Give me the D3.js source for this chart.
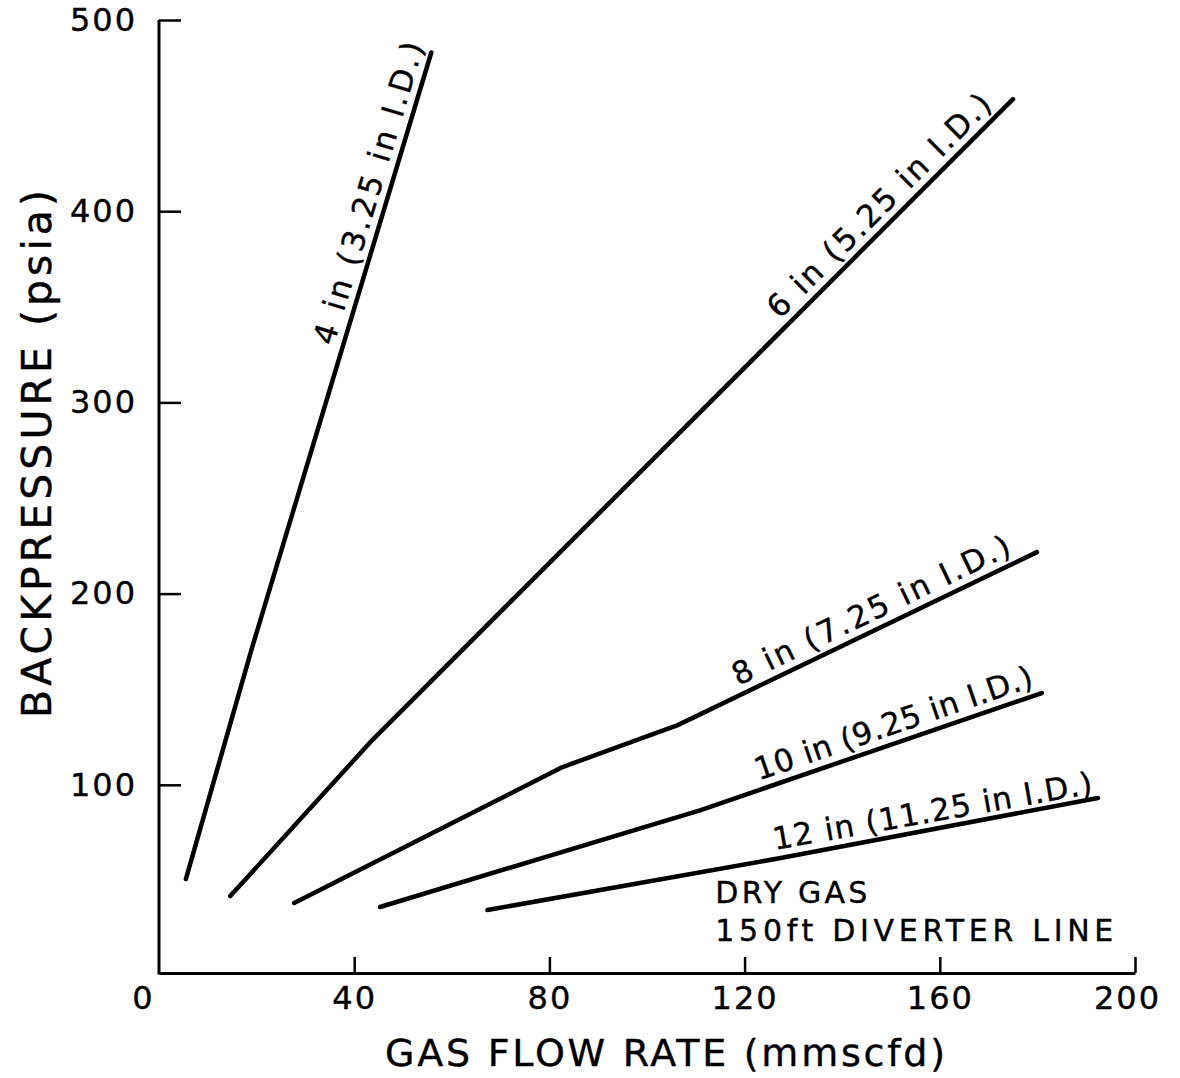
<!DOCTYPE html>
<html>
<head>
<meta charset="utf-8">
<script src="https://cdn.jsdelivr.net/npm/d3@7"></script>
<style>
  body { margin: 0; background: #fff; }
  text { font-family: "DejaVu Sans", sans-serif; fill: #000; stroke: #000; stroke-width: 0.4px; }
</style>
</head>
<body>
<div id="chart"></div>
<script>
// data: [gas flow rate (mmscfd), backpressure (psia)]
var line4in  = [[5.5, 50.7], [19.1, 172], [55.8, 483]];
var line6in  = [[14.6, 41.8], [43.7, 123.4], [175, 458.6]];
var line8in  = [[27.7, 38.2], [82.7, 109.3], [106.3, 131.2], [179.9, 221.7]];
var line10in = [[45.3, 36.1], [111, 86.8], [180.9, 148]];
var line12in = [[67.3, 34.5], [127.4, 61.7], [192.4, 93.1]];

var seriesNames = ["4 in (3.25 in I.D.)", "6 in (5.25 in I.D.)", "8 in (7.25 in I.D.)",
                   "10 in (9.25 in I.D.)", "12 in (11.25 in I.D.)"];
var labelStart = [37.5, 128.5, 119.5, 123.5, 126.5];
var labelLength = [314, 302, 305, 292, 324];

var xTicks = [0, 40, 80, 120, 160, 200];
var yTicks = [100, 200, 300, 400, 500];

var width = 1180, height = 1078;
var margin = {top: 20, left: 159, right: 45, bottom: 102};

var svg = d3.select("#chart")
  .append("svg")
  .attr("width", width)
  .attr("height", height);

var x = d3.scaleLinear().domain([0, 200]).range([margin.left, width - margin.right]);
var y = d3.scaleLinear().domain([0, 500]).range([height - margin.bottom, margin.top]);

var axisY = height - margin.bottom - 3;

// X axis (ticks point up into the plot)
var gx = svg.append("g")
  .attr("transform", "translate(0," + axisY + ")")
  .call(d3.axisBottom(x)
    .tickValues(xTicks)
    .tickSizeInner(-16)
    .tickSizeOuter(0)
    .tickPadding(13));
gx.select(".domain").attr("stroke-width", 3);
gx.selectAll(".tick line").attr("stroke-width", 2.5)
  .attr("y2", d => d === 0 ? 0 : -16);
gx.selectAll(".tick text")
  .style("font-size", "32px")
  .attr("letter-spacing", "2px")
  .attr("dx", d => d === 0 ? -16 : (d === 200 ? -8 : 0));

// Y axis (ticks point right into the plot)
var gy = svg.append("g")
  .attr("transform", "translate(" + x(0) + ",0)")
  .call(d3.axisLeft(y)
    .tickValues(yTicks)
    .tickSizeInner(-22)
    .tickSizeOuter(0)
    .tickPadding(22));
gy.select(".domain").attr("stroke-width", 3)
  .attr("d", "M0," + y(500) + "V" + (axisY + 1.5));
gy.selectAll(".tick line").attr("stroke-width", 2.5);
gy.selectAll(".tick text")
  .style("font-size", "32px")
  .attr("letter-spacing", "2px");

// axis titles
svg.append("text")
  .attr("x", 385)
  .attr("y", 1066)
  .attr("textLength", 560)
  .attr("lengthAdjust", "spacing")
  .style("font-size", "38px")
  .text("GAS FLOW RATE (mmscfd)");

svg.append("text")
  .attr("transform", "translate(51,718) rotate(-90)")
  .attr("textLength", 528)
  .attr("lengthAdjust", "spacing")
  .style("font-size", "41px")
  .text("BACKPRESSURE (psia)");

// curves
var allSeries = [line4in, line6in, line8in, line10in, line12in];
var line = d3.line().x(d => x(d[0])).y(d => y(d[1]));

svg.selectAll(".curve")
  .data(allSeries)
  .enter().append("path")
  .attr("class", "curve")
  .attr("d", line)
  .attr("fill", "none")
  .attr("stroke", "#000")
  .attr("stroke-width", 4.5)
  .attr("stroke-linecap", "round")
  .attr("stroke-linejoin", "round");

// labels sitting on the lines
allSeries.forEach(function(s, i) {
  var sx = labelStart[i];
  var j = 0;
  while (j < s.length - 2 && s[j + 1][0] < sx) j++;
  var p0 = s[j], p1 = s[j + 1];
  var t = (sx - p0[0]) / (p1[0] - p0[0]);
  var sy = p0[1] + t * (p1[1] - p0[1]);
  var ang = Math.atan2(y(p1[1]) - y(p0[1]), x(p1[0]) - x(p0[0]));
  var off = 9;
  var px = x(sx) + off * Math.sin(ang);
  var py = y(sy) - off * Math.cos(ang);
  svg.append("text")
    .attr("transform", "translate(" + px + "," + py + ") rotate(" + (ang * 180 / Math.PI) + ")")
    .attr("textLength", labelLength[i])
    .attr("lengthAdjust", "spacing")
    .style("font-size", "31px")
    .text(seriesNames[i]);
});

// note
svg.append("text")
  .attr("x", x(114))
  .attr("y", y(38))
  .attr("textLength", 152)
  .attr("lengthAdjust", "spacing")
  .style("font-size", "30px")
  .text("DRY GAS");

svg.append("text")
  .attr("x", x(114))
  .attr("y", y(18.3))
  .attr("textLength", 398)
  .attr("lengthAdjust", "spacing")
  .style("font-size", "30px")
  .text("150ft DIVERTER LINE");
</script>
</body>
</html>
